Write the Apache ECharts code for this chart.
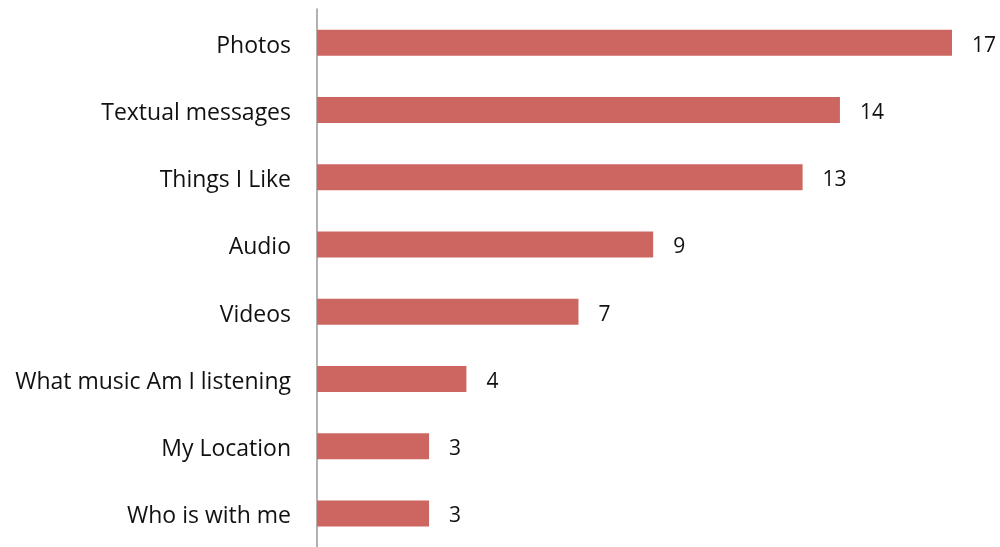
<!DOCTYPE html>
<html>
<head>
<meta charset="utf-8">
<script src="https://cdn.jsdelivr.net/npm/echarts@6/dist/echarts.min.js"></script>
<style>
  html, body { margin: 0; padding: 0; background: #fff; }
  #chart { width: 1000px; height: 547px; }
</style>
</head>
<body>
<div id="chart"></div>
<script>
// What users share: counts per content type
const categories = [
  'Photos',
  'Textual messages',
  'Things I Like',
  'Audio',
  'Videos',
  'What music Am I listening',
  'My Location',
  'Who is with me'
];
const counts = [17, 14, 13, 9, 7, 4, 3, 3];

const FONT = 'Open Sans';
const chart = echarts.init(document.getElementById('chart'), null, { renderer: 'canvas' });

chart.setOption({
  animation: false,
  backgroundColor: '#ffffff',
  grid: { left: 317, right: 48, top: 9, bottom: -3, containLabel: false },
  xAxis: {
    type: 'value',
    min: 0,
    max: 17,
    show: false
  },
  yAxis: {
    type: 'category',
    data: categories,
    inverse: true,
    axisLine: { show: true, lineStyle: { color: '#999999', width: 1.5 } },
    axisTick: { show: false },
    axisLabel: {
      margin: 26,
      formatter: (v) => '{c|' + v + '}',
      rich: {
        c: {
          color: '#111111',
          fontFamily: FONT,
          fontSize: 23,
          lineHeight: 30,
          padding: [7, 0, 0, 0]
        }
      }
    },
    splitLine: { show: false }
  },
  series: [{
    type: 'bar',
    data: counts,
    barWidth: 26,
    itemStyle: { color: '#CD6660' },
    label: {
      show: true,
      position: 'right',
      distance: 20,
      offset: [0, 3],
      color: '#111111',
      fontFamily: FONT,
      fontSize: 21
    }
  }]
});
</script>
</body>
</html>
